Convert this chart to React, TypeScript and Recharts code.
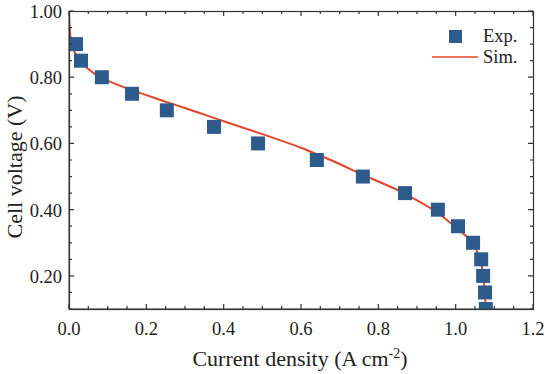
import { ComposedChart, Scatter, Line, XAxis, YAxis } from "recharts";

// experimental polarization points (A cm-2, V)
const expCurrent = [0.018, 0.031, 0.085, 0.163, 0.253, 0.375, 0.489, 0.641, 0.76, 0.869, 0.954, 1.006, 1.045, 1.066, 1.071, 1.076, 1.078];
const expVoltage = [0.9, 0.85, 0.8, 0.75, 0.7, 0.65, 0.6, 0.55, 0.5, 0.45, 0.4, 0.35, 0.3, 0.25, 0.2, 0.15, 0.1];

// simulated curve
const simCurrent = [0, 0.003, 0.01, 0.02, 0.03, 0.05, 0.08, 0.12, 0.16, 0.2, 0.25, 0.3, 0.4, 0.5, 0.6, 0.65, 0.7, 0.76, 0.8, 0.866, 0.9, 0.954, 1.006, 1.042, 1.063, 1.073, 1.078];
const simVoltage = [0.99, 0.93, 0.89, 0.865, 0.848, 0.825, 0.8, 0.78, 0.762, 0.746, 0.726, 0.707, 0.667, 0.628, 0.587, 0.563, 0.538, 0.505, 0.485, 0.45, 0.428, 0.39, 0.34, 0.3, 0.248, 0.188, 0.1];

const xTicks = [0, 0.05, 0.1, 0.15, 0.2, 0.25, 0.3, 0.35, 0.4, 0.45, 0.5, 0.55, 0.6, 0.65, 0.7, 0.75, 0.8, 0.85, 0.9, 0.95, 1.0, 1.05, 1.1, 1.15, 1.2];
const yTicks = [0.1, 0.15, 0.2, 0.25, 0.3, 0.35, 0.4, 0.45, 0.5, 0.55, 0.6, 0.65, 0.7, 0.75, 0.8, 0.85, 0.9, 0.95, 1.0];

const expData = expCurrent.map((j, i) => ({ j, v: expVoltage[i] }));
const simData = simCurrent.map((j, i) => ({ j, v: simVoltage[i] }));

const W = 550;
const H = 374;
const MARGIN = { top: 11, right: 17, bottom: 15, left: 9 };
const Y_AXIS_W = 60;
const X_AXIS_H = 50;
const X_DOMAIN = [0, 1.2];
const Y_DOMAIN = [0.1, 1.0];

// plot box, from the margins and axis sizes above
const L = MARGIN.left + Y_AXIS_W;
const T = MARGIN.top;
const R = W - MARGIN.right;
const B = H - MARGIN.bottom - X_AXIS_H;
const px = (v: number) => L + ((v - X_DOMAIN[0]) / (X_DOMAIN[1] - X_DOMAIN[0])) * (R - L);
const py = (v: number) => B - ((v - Y_DOMAIN[0]) / (Y_DOMAIN[1] - Y_DOMAIN[0])) * (B - T);

const FONT = "'Liberation Serif', serif";
const AXIS = "#333";
const BLUE = "#2d5b8c";
const RED = "#e2472a";
const txt = { fontFamily: FONT, fill: "#222" };

const isMajor = (v: number) => Math.round(v * 100) % 20 === 0;

// inward ticks on all four sides of the frame
const tickPath =
  xTicks
    .map((v) => {
      const len = isMajor(v) ? 5 : 3;
      const x = px(v);
      return `M${x},${B}V${B - len}M${x},${T}V${T + len}`;
    })
    .join("") +
  yTicks
    .map((v) => {
      const len = isMajor(v) ? 5 : 3;
      const y = py(v);
      return `M${L},${y}H${L + len}M${R},${y}H${R - len}`;
    })
    .join("");

function BottomTick({ x, y, payload }: any) {
  if (!isMajor(payload.value)) return <g />;
  return (
    <text x={x} y={y + 26} textAnchor="middle" fontSize={18.5} fontFamily={FONT} style={txt}>
      {payload.value.toFixed(1)}
    </text>
  );
}

function LeftTick({ x, y, payload }: any) {
  if (!isMajor(payload.value)) return <g />;
  return (
    <text x={x - 7} y={y + 7} textAnchor="end" fontSize={18.5} fontFamily={FONT} style={txt}>
      {payload.value.toFixed(2)}
    </text>
  );
}

const SquareDot = ({ cx, cy }: any) => <rect x={cx - 7} y={cy - 7} width={14} height={14} fill={BLUE} />;

export default function App() {
  return (
    <div style={{ position: "absolute", left: 0, top: 0, width: W, height: H, background: "#fff" }}>
      <ComposedChart width={W} height={H} margin={MARGIN}>
        <XAxis
          xAxisId="b"
          type="number"
          dataKey="j"
          domain={X_DOMAIN}
          ticks={xTicks}
          interval={0}
          allowDataOverflow
          height={X_AXIS_H}
          stroke={AXIS}
          tickLine={false}
          tickSize={0}
          tickMargin={0}
          tick={<BottomTick />}
        />
        <YAxis
          yAxisId="l"
          type="number"
          dataKey="v"
          domain={Y_DOMAIN}
          ticks={yTicks}
          interval={0}
          allowDataOverflow
          width={Y_AXIS_W}
          stroke={AXIS}
          tickLine={false}
          tickSize={0}
          tickMargin={0}
          tick={<LeftTick />}
        />
        <Scatter xAxisId="b" yAxisId="l" data={expData} dataKey="v" fill={BLUE} shape={<SquareDot />} isAnimationActive={false} />
        <Line
          xAxisId="b"
          yAxisId="l"
          data={simData}
          dataKey="v"
          type="monotone"
          stroke={RED}
          strokeWidth={2}
          dot={false}
          isAnimationActive={false}
        />
        {/* legend */}
        <rect x={449} y={30} width={13} height={13} fill={BLUE} />
        <text x={483} y={42} fontSize={18.5} fontFamily={FONT} style={txt}>Exp.</text>
        <line x1={432} x2={478} y1={57} y2={57} stroke={RED} strokeWidth={1.5} />
        <text x={483} y={63} fontSize={18.5} fontFamily={FONT} style={txt}>Sim.</text>
        <text x={300} y={366} textAnchor="middle" fontSize={22} fontFamily={FONT} style={txt}>
          Current density (A cm<tspan dy={-8} fontSize={14}>-2</tspan><tspan dy={8}>)</tspan>
        </text>
        <text x={0} y={0} transform="translate(22 167) rotate(-90)" textAnchor="middle" fontSize={22} fontFamily={FONT} style={txt}>
          Cell voltage (V)
        </text>
      </ComposedChart>
      {/* frame and ticks overlay */}
      <svg width={W} height={H} style={{ position: "absolute", left: 0, top: 0, pointerEvents: "none" }}>
        <rect x={L + 0.5} y={T + 0.5} width={R - L} height={B - T} fill="none" stroke={AXIS} strokeWidth={1.2} />
        <path d={tickPath} fill="none" stroke={AXIS} strokeWidth={1.2} />
      </svg>
    </div>
  );
}
